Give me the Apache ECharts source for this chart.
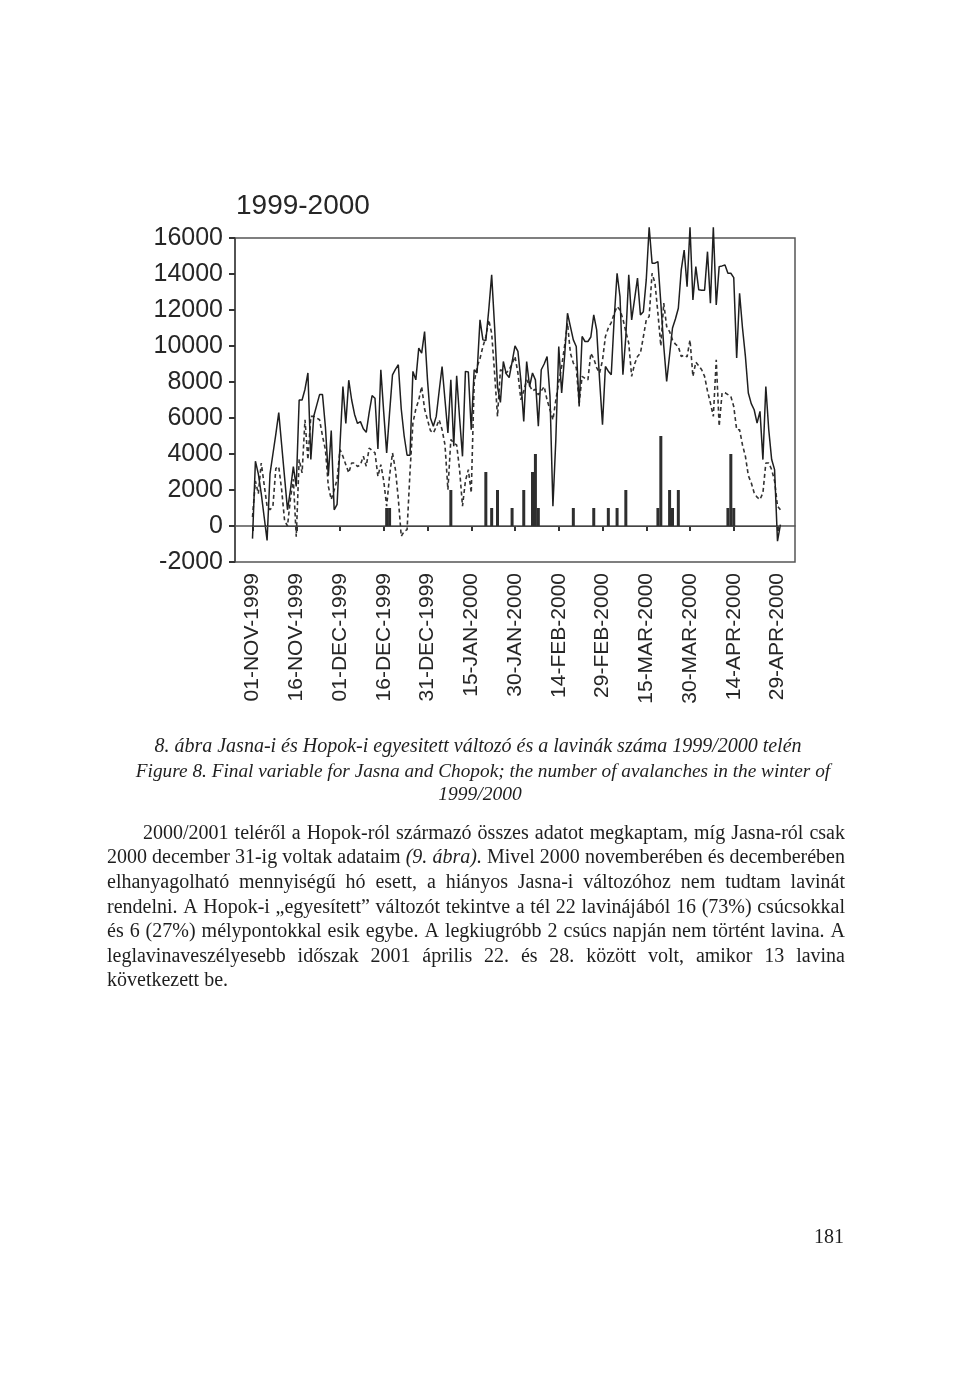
<!DOCTYPE html>
<html><head><meta charset="utf-8">
<script src="https://cdn.jsdelivr.net/npm/echarts@6/dist/echarts.min.js"></script>
<style>html,body{margin:0;padding:0;background:#fff}#c{width:960px;height:1378px}</style>
</head><body><div id="c"></div>
<script>
// ---------- data ----------
const chartTitle = '1999-2000';
const seriesStart = '01-NOV-1999';
const tickLabels = ['01-NOV-1999','16-NOV-1999','01-DEC-1999','16-DEC-1999','31-DEC-1999','15-JAN-2000',
  '30-JAN-2000','14-FEB-2000','29-FEB-2000','15-MAR-2000','30-MAR-2000','14-APR-2000','29-APR-2000'];
// solid line, daily from 01-NOV-1999
const solidValues = [
  -700,3600,2900,1800,500,-800,2900,4000,5100,6300,
  4500,2700,900,2000,3300,2200,7000,7000,7600,8500,
  3700,6100,6700,7300,7300,5500,2800,5300,900,1200,
  4500,7750,5700,8100,7000,6200,5700,5800,5400,5200,
  6300,7240,7100,4280,8680,6300,4060,6300,8400,8700,
  8960,6500,5000,3930,3930,8590,8120,9880,9600,10800,
  8120,6000,5540,6090,7500,8860,7000,5170,8120,4430,
  8350,6000,3870,8590,8550,5350,8680,8500,11450,10340,
  10300,12000,13950,11080,7750,6870,9140,8450,8250,9100,
  10010,9700,8120,5810,9140,7750,8500,8120,5540,8680,
  9000,9420,7200,1100,4800,9970,7390,9420,11820,11080,
  10340,9970,6640,10530,10250,10250,10500,11730,10900,8120,
  5630,8860,8600,8400,11500,14040,12740,8400,10530,13950,
  11450,12600,13770,11730,11900,13670,16600,14600,14600,14690,
  12380,10000,8030,9500,11000,11500,12100,14230,15330,13300,
  16600,12560,14410,13120,13100,13100,15240,12380,16600,12280,
  14410,14450,14500,14040,14040,13800,9330,12930,11000,9420,
  7390,6800,6460,5720,6370,3690,7750,5350,3690,3130,
  -840,80
];
// dotted line, daily from 01-NOV-1999
const dottedValues = [
  500,2500,1800,3500,2300,1100,900,1100,3200,3300,
  2000,300,0,1500,2600,-600,3700,2950,5900,3690,
  6090,6100,6000,5900,5000,4240,2210,1470,2000,2580,
  4240,3870,3400,2950,3500,3500,3300,3400,3870,3320,
  4330,4200,4060,2760,3410,2500,1100,2800,4060,3130,
  1500,-570,-300,-200,3000,5720,6500,7000,7750,6500,
  5900,5300,5170,5500,5900,5350,4500,2020,4800,4600,
  4500,3130,1100,2500,3130,1840,7940,8860,9300,9970,
  10500,11450,10710,8500,6090,8680,8600,8500,8700,9000,
  9420,8500,7020,7500,8120,7800,7500,7600,7290,7500,
  7750,7000,6460,5900,7000,8000,8860,10000,11270,9600,
  9050,8800,6830,8310,8200,8120,9600,9300,8800,8500,
  9200,10530,11000,11300,11800,12190,12000,11500,10800,10160,
  8310,9000,9420,9600,10500,11450,11640,14040,13490,11820,
  10000,12380,11080,10800,10340,10100,9970,9420,9500,9400,
  10340,8310,9100,8900,8680,8310,7500,6830,6090,9230,
  5540,7390,7400,7300,7200,6640,5350,5350,4500,3870,
  2800,2400,1840,1600,1470,1840,3500,3500,3130,2500,
  1100,900
];
// avalanche bars
const avalancheDates = ['17-DEC-1999','18-DEC-1999','08-JAN-2000','20-JAN-2000','22-JAN-2000','24-JAN-2000',
  '29-JAN-2000','02-FEB-2000','05-FEB-2000','06-FEB-2000','07-FEB-2000','19-FEB-2000','26-FEB-2000',
  '02-MAR-2000','05-MAR-2000','08-MAR-2000','19-MAR-2000','20-MAR-2000','23-MAR-2000','24-MAR-2000',
  '26-MAR-2000','12-APR-2000','13-APR-2000','14-APR-2000'];
const avalancheValues = [1000,1000,2000,3000,1000,2000,1000,2000,3000,4000,1000,1000,1000,
  1000,1000,2000,1000,5000,2000,1000,2000,1000,4000,1000];

const captionLines = [
  '8. ábra Jasna-i és Hopok-i egyesitett változó és a lavinák száma 1999/2000 telén',
  'Figure 8. Final variable for Jasna and Chopok; the number of avalanches in the winter of',
  '1999/2000'
];
const paragraphLines = [
  '2000/2001 teléről a Hopok-ról származó összes adatot megkaptam, míg Jasna-ról csak',
  '2000 december 31-ig voltak adataim (9. ábra). Mivel 2000 novemberében és decemberében',
  'elhanyagolható mennyiségű hó esett, a hiányos Jasna-i változóhoz nem tudtam lavinát',
  'rendelni. A Hopok-i „egyesített” változót tekintve a tél 22 lavinájából 16 (73%) csúcsokkal',
  'és 6 (27%) mélypontokkal esik egybe. A legkiugróbb 2 csúcs napján nem történt lavina. A',
  'leglavinaveszélyesebb időszak 2001 április 22. és 28. között volt, amikor 13 lavina',
  'következett be.'
];
const pageNumber = '181';

// ---------- build ----------
const MONTHS=['JAN','FEB','MAR','APR','MAY','JUN','JUL','AUG','SEP','OCT','NOV','DEC'];
function fmt(d){return String(d.getUTCDate()).padStart(2,'0')+'-'+MONTHS[d.getUTCMonth()]+'-'+d.getUTCFullYear();}
const categories=[];
for(let t=Date.UTC(1999,9,26); t<=Date.UTC(2000,4,5); t+=86400000) categories.push(fmt(new Date(t)));
const startIdx = categories.indexOf(seriesStart);
function pad(vals){return categories.map((c,i)=>{const k=i-startIdx;return (k>=0&&k<vals.length)?vals[k]:null;});}
const solidData = pad(solidValues);
const dottedData = pad(dottedValues);
const barData = categories.map(c=>{const k=avalancheDates.indexOf(c);return k>=0?avalancheValues[k]:null;});
const lastIdx = startIdx + solidValues.length - 1;

const SERIF='"Liberation Serif", "Times New Roman", serif';
const SANS='"Liberation Sans", Arial, sans-serif';
const mctx=document.createElement('canvas').getContext('2d');
function fontStr(size,style){return (style||'normal')+' '+size+'px '+SERIF;}
function measure(t,size,style){mctx.font=fontStr(size,style);return mctx.measureText(t).width;}
const italicWords=['(9.','ábra).'];
function justified(text,x0,x1,y,size,justify){
  const words=text.split(' ');
  const st=words.map(w=>italicWords.includes(w)?'italic':'normal');
  const w=words.map((t,i)=>measure(t,size,st[i]));
  const total=w.reduce((a,b)=>a+b,0);
  const space=measure(' ',size);
  const gap=justify?(x1-x0-total)/(words.length-1):space;
  let x=x0;const els=[];
  words.forEach((t,i)=>{els.push({type:'text',x:x,y:y,silent:true,style:{text:t,font:fontStr(size,st[i]),fill:'#1e1e1e',verticalAlign:'middle',align:'left'}});x+=w[i]+gap;});
  return els;
}
const graphics=[];
const capY=[747,772,795];
const capX=[478,483,480];
const capSize=[20,19.3,19.5];
captionLines.forEach((t,i)=>graphics.push({type:'text',x:capX[i],y:capY[i],silent:true,style:{text:t,font:fontStr(capSize[i],'italic'),fill:'#1e1e1e',align:'center',verticalAlign:'middle'}}));
const parY=[834,858,883,908,932,957,981];
paragraphLines.forEach((t,i)=>{
  const x0=i===0?143:107;
  graphics.push(...justified(t,x0,845,parY[i],20,i<paragraphLines.length-1));
});
graphics.push({type:'text',x:829,y:1238,silent:true,style:{text:pageNumber,font:fontStr(20),fill:'#1e1e1e',align:'center',verticalAlign:'middle'}});

const chart=echarts.init(document.getElementById('c'),null,{renderer:'canvas'});
const tickFn=(idx,val)=>tickLabels.includes(val);
chart.setOption({
  animation:false,
  backgroundColor:'#fff',
  title:{text:chartTitle,left:231,top:187,textStyle:{fontFamily:SANS,fontSize:28,fontWeight:'normal',color:'#262626'}},
  grid:{left:235,right:165,top:238,bottom:816,show:true,borderColor:'#555',borderWidth:1.5,backgroundColor:'transparent'},
  xAxis:{type:'category',data:categories,boundaryGap:false,
    axisLine:{show:true,lineStyle:{color:'#555',width:1.5}},
    axisTick:{show:true,interval:tickFn,length:5,lineStyle:{color:'#333',width:2}},
    axisLabel:{interval:tickFn,rotate:90,margin:11,fontFamily:SANS,fontSize:21,color:'#262626'},
    splitLine:{show:false}},
  yAxis:{type:'value',min:-2000,max:16000,interval:2000,
    axisLine:{show:true,lineStyle:{color:'#444',width:1.5}},
    axisTick:{show:true,length:6,lineStyle:{color:'#333',width:2}},
    axisLabel:{margin:12,fontFamily:SANS,fontSize:25,color:'#262626',formatter:v=>String(v)},
    splitLine:{show:false}},
  series:[
    {type:'bar',data:barData,barWidth:3,itemStyle:{color:'#2e2e2e'},z:1,
      markLine:{silent:true,symbol:['none','none'],label:{show:false},
        lineStyle:{color:'#444',width:1,type:'solid'},
        data:[[{coord:[categories[startIdx],0]},{coord:[categories[lastIdx],0]}]]}},
    {type:'line',data:dottedData,symbol:'none',clip:false,connectNulls:false,z:2,
      lineStyle:{color:'#333',width:1.6,type:[4,3]}},
    {type:'line',data:solidData,symbol:'none',clip:false,connectNulls:false,z:3,
      lineStyle:{color:'#1f1f1f',width:1.5}}
  ],
  graphic:graphics
});
</script></body></html>
